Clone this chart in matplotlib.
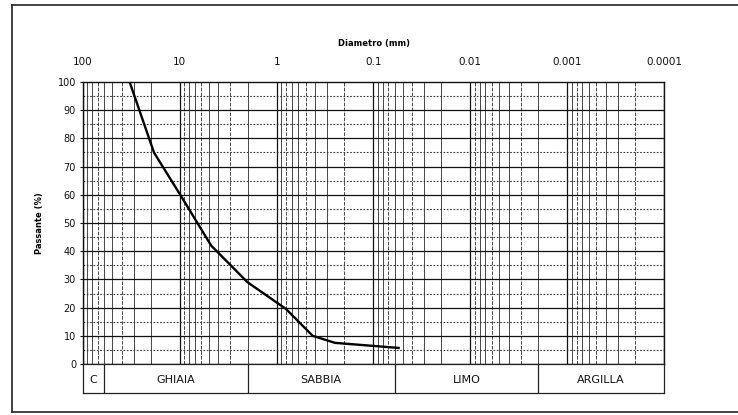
import matplotlib.pyplot as plt
import numpy as np
from matplotlib.lines import Line2D
from matplotlib.ticker import FixedLocator, NullFormatter

# Grain size curve
diam_mm = [33, 18.5, 9.5, 4.75, 2.0, 0.8, 0.425, 0.25, 0.055]
passing = [100, 75, 59, 42, 29, 19.5, 10, 7.5, 5.7]

x_ticks = [100, 10, 1, 0.1, 0.01, 0.001, 0.0001]
x_labels = ["100", "10", "1", "0.1", "0.01", "0.001", "0.0001"]
y_ticks = list(range(0, 101, 10))

# Soil classes (AGI limits, mm)
class_limits = [100, 60, 2, 0.06, 0.002, 0.0001]
class_names = ["C", "GHIAIA", "SABBIA", "LIMO", "ARGILLA"]

W, H = 738, 415
fig = plt.figure(figsize=(W / 100, H / 100), dpi=100)

def fx(px):
    return px / W

def fy(py):
    return 1 - py / H

ax = fig.add_axes([fx(83), fy(364), fx(664 - 83), (364 - 82) / H])
ax.set_xscale("log")
ax.set_xlim(100, 0.0001)
ax.set_ylim(0, 100)

# grid: verticals at every log minor, solid horizontals at 10s, dotted at 5s
minors = [m * 10.0 ** e for e in range(-4, 2) for m in range(2, 10)]
for i, v in enumerate(minors):
    style = "-" if i % 3 else (0, (4, 1.5))  # scan shows a few broken lines
    ax.axvline(v, color="#3a3a3a", lw=0.65, ls=style, zorder=1)
for v in x_ticks:
    ax.axvline(v, color="#111111", lw=0.9, zorder=1)
for y in range(10, 100, 10):
    ax.axhline(y, color="#111111", lw=0.9, zorder=1)
for y in range(5, 100, 10):
    ax.axhline(y, color="#333333", lw=0.8, ls=(0, (1.5, 1.5)), zorder=1)

ax.plot(diam_mm, passing, color="black", lw=1.7, zorder=3)

ax.xaxis.tick_top()
ax.xaxis.set_major_locator(FixedLocator(x_ticks))
ax.set_xticklabels(x_labels)
ax.xaxis.set_minor_formatter(NullFormatter())
ax.set_yticks(y_ticks)
ax.tick_params(axis="x", which="both", length=0, labelsize=7.5, pad=11, colors="#111111")
ax.tick_params(axis="y", length=2, labelsize=7, pad=3, colors="#111111")
for s in ax.spines.values():
    s.set_linewidth(1.0)
    s.set_color("#111111")

ax.set_xlabel("Diametro (mm)", fontsize=6, fontweight="bold", labelpad=8)
ax.xaxis.set_label_position("top")
ax.set_ylabel("Passante (%)", fontsize=6, fontweight="bold", labelpad=10)

# classification band under the plot
band = fig.add_axes([fx(83), fy(393), fx(664 - 83), (393 - 364) / H])
band.set_xscale("log")
band.set_xlim(100, 0.0001)
band.set_ylim(0, 1)
band.set_xticks([])
band.set_yticks([])
band.minorticks_off()
for s in band.spines.values():
    s.set_linewidth(0.9)
    s.set_color("#222222")
for lim in class_limits[1:-1]:
    band.axvline(lim, color="#222222", lw=0.9)
for i, name in enumerate(class_names):
    mid = np.sqrt(class_limits[i] * class_limits[i + 1])
    band.text(mid, 0.45, name, ha="center", va="center", fontsize=8, color="#111111")

# outer frame of the scanned page
for xs, ys in [((12, 738), (5, 5)), ((12, 12), (5, 412)), ((12, 738), (412, 412))]:
    fig.add_artist(Line2D([fx(x) for x in xs], [fy(y) for y in ys], color="#222222", lw=1.2))

fig.savefig("out.png", dpi=100)
